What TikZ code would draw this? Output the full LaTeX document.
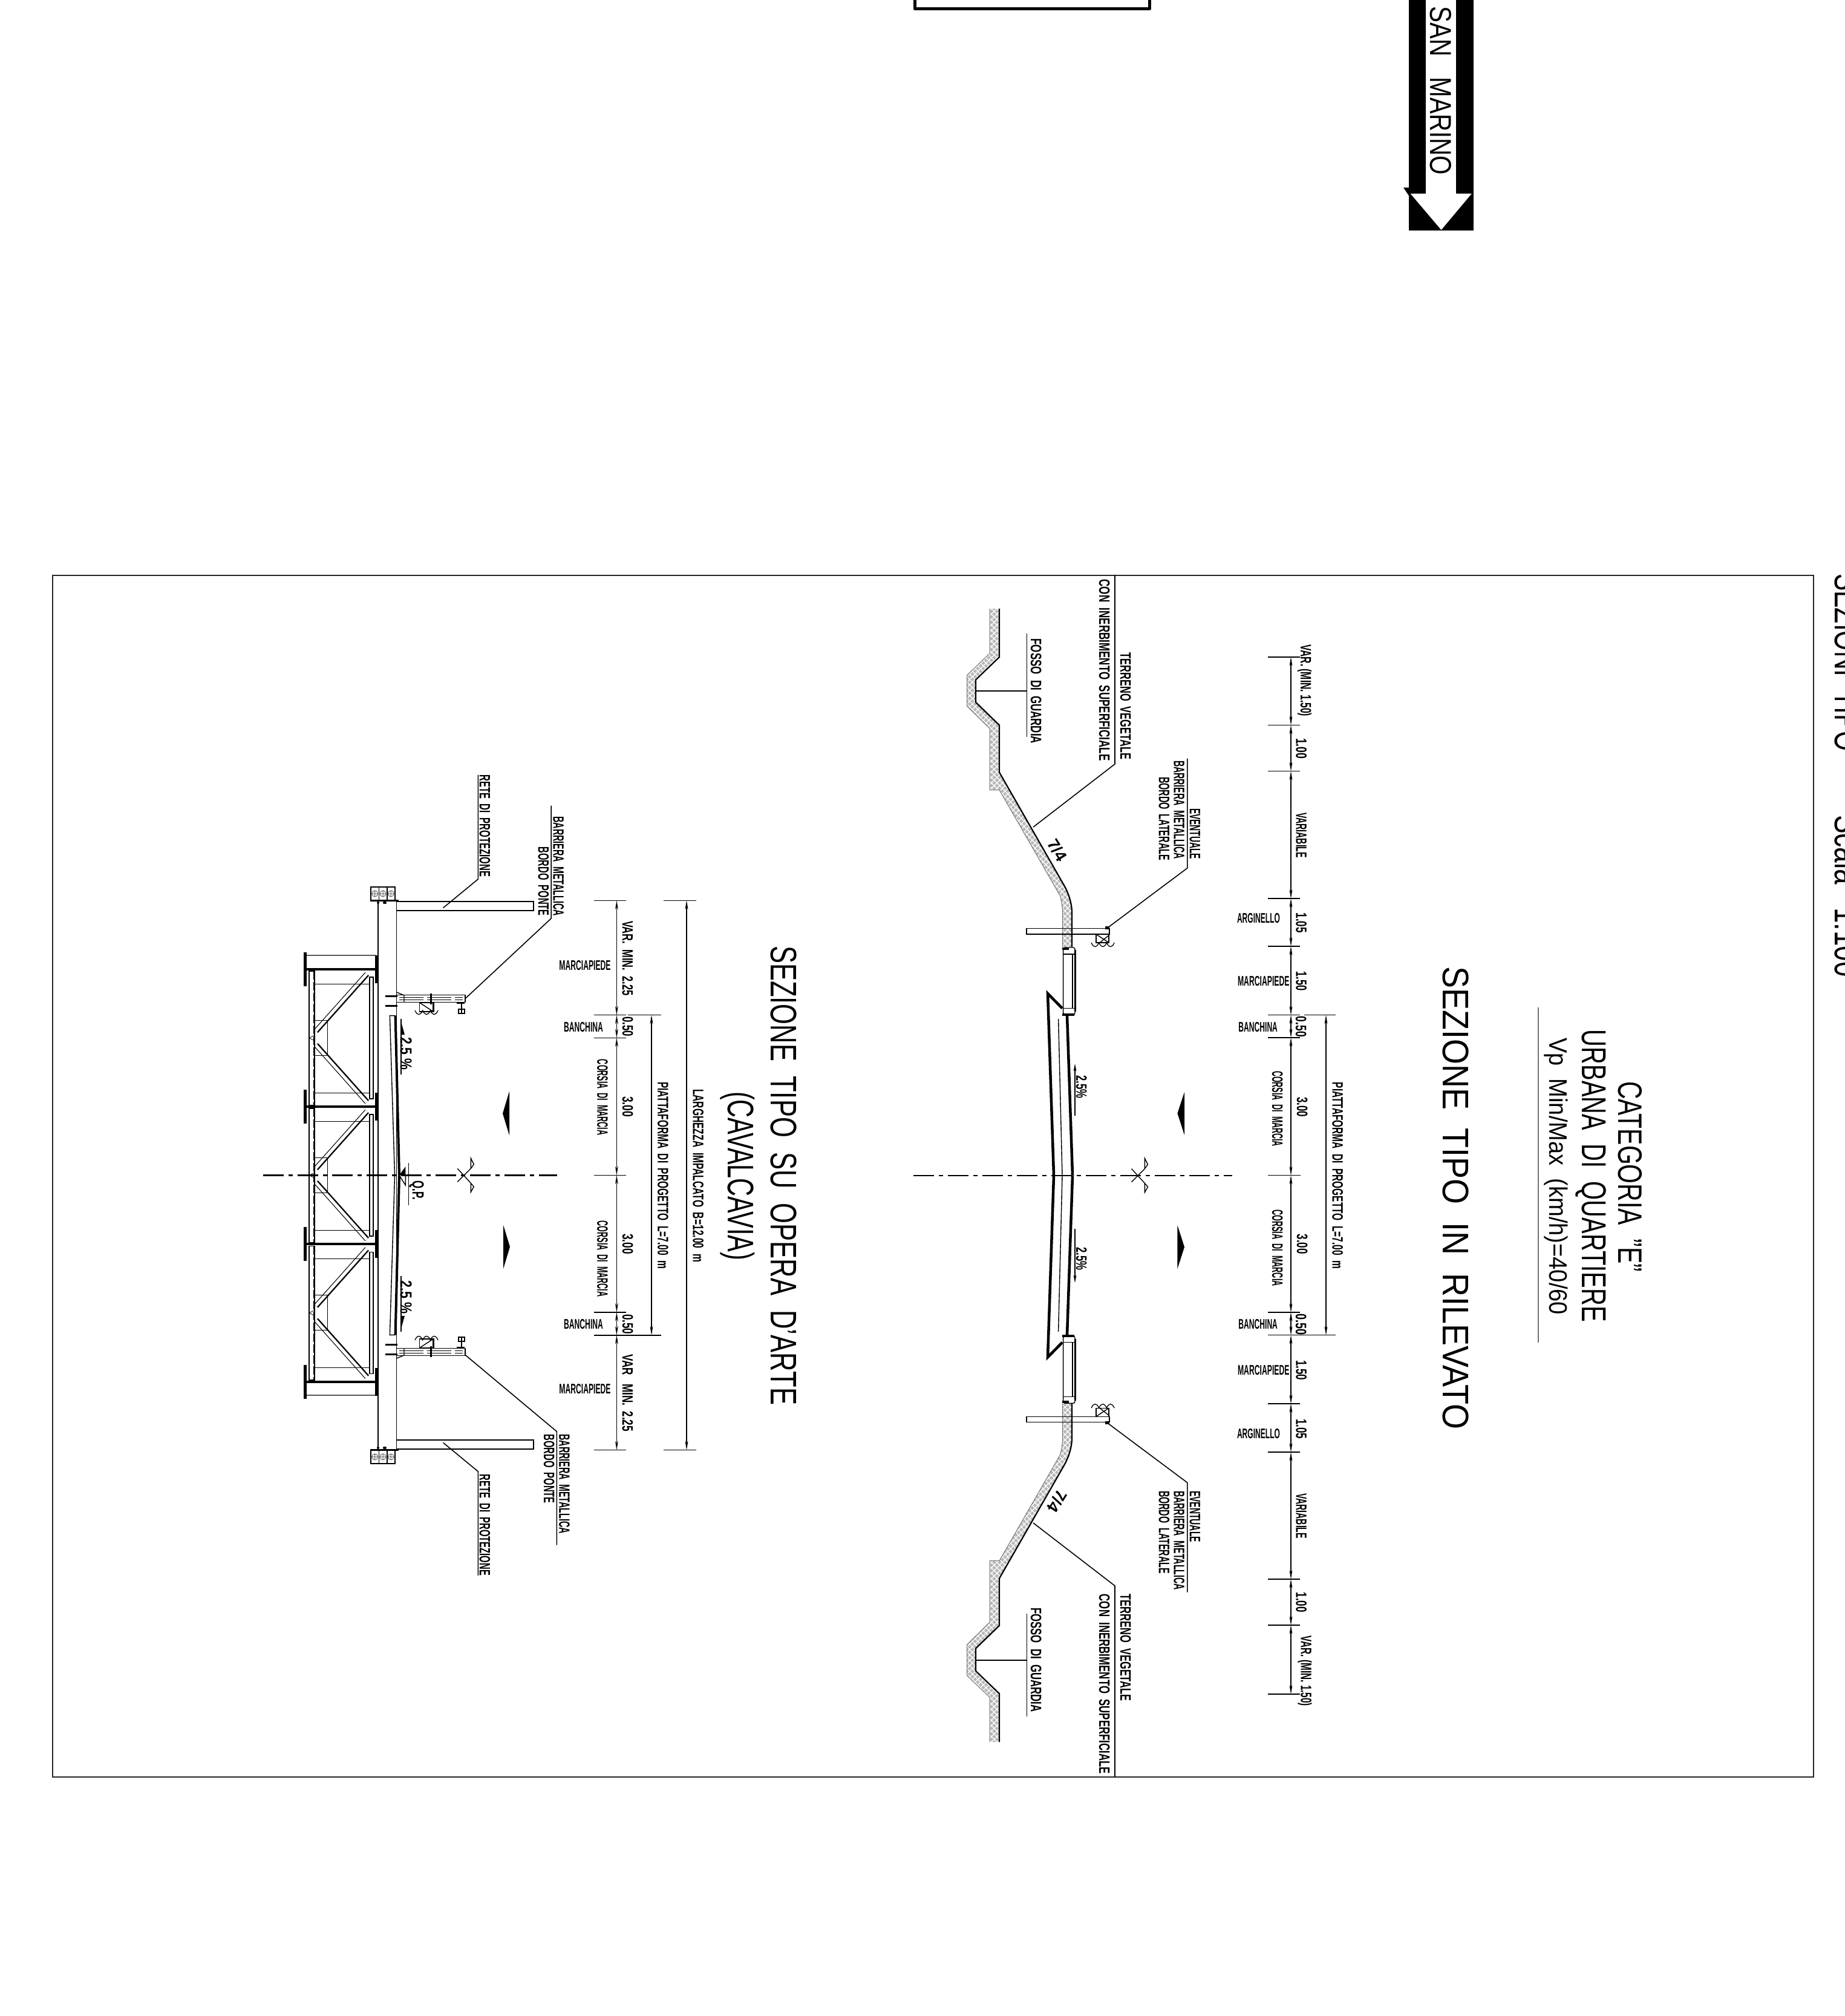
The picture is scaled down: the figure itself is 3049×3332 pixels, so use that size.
\documentclass[tikz,border=0pt]{standalone}
\usepackage{fontspec}
\usepackage{graphicx}
\setmainfont{Liberation Sans}
\usetikzlibrary{arrows.meta}
\tikzset{
  txt/.style={inner sep=0pt,outer sep=0pt,text=black},
  thinl/.style={line width=1.4pt,black},
  dim/.style={line width=1.4pt,black,{Stealth[length=15pt,width=5pt]}-{Stealth[length=15pt,width=5pt]}},
  tick/.style={line width=1.6pt,black},
  leader/.style={line width=1.6pt,black},
  axisl/.style={line width=2.2pt,black,dash pattern=on 34pt off 8pt on 7pt off 8pt},
}
% vertical (rotated) text: name, x, y, length, font size, text
\newcommand\TxV[6]{\node[txt,rotate=-90] (#1) at (#2,#3) {\resizebox{#4pt}{\height}{\fontsize{#5}{#5}\ifdim#5pt<30pt\bfseries\fi\selectfont\raisebox{0pt}[0.72em][0pt]{#6}}};}
% horizontal text
\newcommand\TxH[6]{\node[txt] (#1) at (#2,#3) {\resizebox{#4pt}{\height}{\fontsize{#5}{#5}\bfseries\selectfont\raisebox{0pt}[0.72em][0pt]{#6}}};}
% axis mark of the carriageway
\newcommand\axismark{
  \draw[thinl] (-10,11) -- (12,-11) -- (12,-28) -- (17,-18) -- (12,-11);
  \draw[thinl] (-10,-11) -- (12,13) -- (12,28) -- (17,19) -- (12,13);
}
\newcommand\wavy[3]{% x, y, unit
  \draw[line width=1.3pt] (#1,#2) .. controls +(#3*0.3,#3*0.7) and +(-#3*0.3,#3*0.7) .. ++(#3,0)
   .. controls +(#3*0.3,#3*0.7) and +(-#3*0.3,#3*0.7) .. ++(#3,0)
   .. controls +(#3*0.3,#3*0.7) and +(-#3*0.3,#3*0.7) .. ++(#3,0);
}
% half of the embankment, mirrored about the axis
\newcommand\roadhalf{
  \fill[black!28] (1636,1006)--(1652,1006)--(1652,1086)--(1613,1123.5)--(1613,1160.7)--(1652,1198.5)--(1652,1305.6)--(1636,1305.6)--(1636,1204)--(1598.5,1167)--(1598.5,1116)--(1636,1080)--cycle;
  \fill[black!28] (1652,1276.5)--(1760,1465) .. controls (1768,1480) and (1772,1495) .. (1772,1508.7)--(1772,1565)--(1756.6,1565)--(1756.6,1508.7) .. controls (1756.6,1500) and (1755,1490) .. (1752.5,1480.6)--(1652,1305.6)--cycle;
  \begin{scope}
    \clip (1636,1006)--(1652,1006)--(1652,1086)--(1613,1123.5)--(1613,1160.7)--(1652,1198.5)--(1652,1305.6)--(1636,1305.6)--(1636,1204)--(1598.5,1167)--(1598.5,1116)--(1636,1080)--cycle
     (1652,1276.5)--(1760,1465) .. controls (1768,1480) and (1772,1495) .. (1772,1508.7)--(1772,1565)--(1756.6,1565)--(1756.6,1508.7) .. controls (1756.6,1500) and (1755,1490) .. (1752.5,1480.6)--(1652,1305.6)--cycle;
    \foreach \c in {2600,2609,...,3340} \draw[white,line width=1.3pt] (1590,{\c-1590}) -- (1780,{\c-1780});
    \foreach \c in {30,39,...,770} \draw[white,line width=1.3pt] (1590,{1590-\c}) -- (1780,{1780-\c});
  \end{scope}
  \draw[line width=2.2pt] (1652,1006)--(1652,1086)--(1613,1123.5)--(1613,1160.7)--(1652,1198.5)--(1652,1276.5)--(1760,1465) .. controls (1768,1480) and (1772,1495) .. (1772,1508.7)--(1772,1565);
  \draw[line width=1pt,black!55] (1636,1006)--(1636,1080)--(1598.5,1116)--(1598.5,1167)--(1636,1204)--(1636,1305.6)--(1652,1305.6)--(1752.5,1480.6) .. controls (1755,1490) and (1756.6,1500) .. (1756.6,1508.7)--(1756.6,1565);
  % sidewalk
  \draw[thinl,rounded corners=3pt] (1757.6,1677)--(1757.6,1566)--(1777,1566)--(1777,1677)--cycle;
  \draw[line width=3pt] (1777,1570)--(1777,1672);
  \draw[thinl] (1773,1577)--(1773,1666);
  \draw[thinl] (1757.6,1577)--(1777,1577) (1757.6,1666.5)--(1777,1666.5);
  \draw[line width=3.5pt] (1756,1568)--(1767,1568);
  \draw[line width=3.5pt] (1756,1677)--(1776,1677);
  % lateral barrier
  \draw[thinl] (1697,1534.7) rectangle (1834,1544);
  \draw[thinl] (1812,1544) rectangle (1833,1558);
  \draw[thinl] (1812,1544)--(1833,1558) (1818,1558)--(1833,1546);
  \fill (1827,1531) rectangle (1834,1536);
  \wavy{1804}{1558}{12.7}
  % pavement
  \draw[line width=4.5pt,line join=miter] (1764,1678)--(1773,1942.6);
  \draw[line width=4.5pt,line join=miter] (1756,1666.5)--(1732,1642)--(1742,1942.6);
  \draw[thinl] (1749.6,1684)--(1756,1942.6);
}
% half of the bridge deck fittings, mirrored about the axis
\newcommand\bridgehalf{
  \draw[line width=1.8pt] (613,1465.8) rectangle (652.6,1488.3);
  \draw[thinl] (626.5,1465.8)--(626.5,1488.3) (639.8,1465.8)--(639.8,1488.3);
  \foreach \x in {619.7,633,646.2} {
    \draw[line width=1pt,black!60] (\x,1477) circle[radius=5pt] (\x-5,1477)--(\x+5,1477) (\x,1472)--(\x,1482);
  }
  \draw[line width=3pt] (611.7,1488.3)--(658.7,1488.3);
  \fill (625,1492) circle[radius=2pt] (635,1492) circle[radius=2pt] (637,1492) circle[radius=2pt];
  % net
  \draw[thinl] (655.6,1489.8) rectangle (882,1505);
  % barrier arm
  \draw[thinl] (655.6,1644.4) rectangle (769,1656.6);
  \draw[line width=1pt,dash pattern=on 40pt off 6pt] (660,1648.5)--(765,1648.5) (660,1652.5)--(765,1652.5);
  \draw[thinl] (656,1640)--(668,1645) (668,1645)--(668,1656);
  \draw[line width=3pt] (637,1646.4)--(657,1646.4) (637,1662)--(657,1662);
  \draw[line width=3pt] (712,1642)--(712,1660);
  \draw[thinl] (693.4,1657) rectangle (716.3,1672);
  \draw[line width=2.5pt] (716.3,1657)--(716.3,1672)--(693.4,1672);
  \draw[thinl] (693.4,1657)--(716.3,1672);
  \wavy{686}{1670}{12.7}
  \draw[line width=2pt] (763,1656)--(763,1676);
  \draw[line width=2pt] (758,1668) rectangle (768,1675);
  \draw[line width=2pt] (755,1658)--(768,1658);
  % pavement
  \draw[line width=4pt] (653.6,1678.6)--(660,1942.4);
  \draw[thinl] (653.6,1678.6)--(644.4,1678.6)--(652.5,1942.4);
  % slope mark
  \draw[thinl] (663,1684)--(663,1775.5);
  \fill (662,1685)--(662,1710)--(669,1710)--cycle;
}
% one bay of the girder bracing, drawn about mid height 1715.5
\newcommand\bay{
  \draw[line width=1.2pt,double=white,double distance=6pt] (606.6,1609.7)--(522.4,1704);
  \draw[line width=2.2pt] (609,1612)--(525,1706);
  \draw[line width=1.2pt,double=white,double distance=6pt] (522.4,1727)--(606.6,1821.4);
  \draw[line width=2.2pt] (525,1725)--(609,1819);
  \draw[thinl] (511,1605) rectangle (520,1826.5);
  \draw[thinl] (611,1615) rectangle (617,1816);
  \draw[line width=1pt,dash pattern=on 14pt off 4pt] (518,1605)--(518,1826);
  \draw[line width=1pt] (520,1626)--(611,1626) (520,1806)--(611,1806);
  \draw[line width=1pt] (520,1686)--(541,1686)--(541,1744)--(520,1744);
  \draw[line width=0.8pt] (520,1711)--(511,1715.5)--(520,1720);
}
\begin{document}
\begin{tikzpicture}[x=1pt,y=-1pt,line cap=butt]
\clip (0,0) rectangle (3049,3332);
\fill[white] (0,0) rectangle (3049,3332);
% --- top fragments
\draw[line width=5pt,line join=round] (1512.5,-10)--(1512.5,15)--(1900,15)--(1900,-10);
\fill[black] (2329.4,-5) rectangle (2435.5,380.7);
\fill[black] (2320,310)--(2330,310)--(2330,325)--cycle;
\fill[white] (2357,-5) rectangle (2407.4,321);
\fill[white] (2331.6,320)--(2432.8,320)--(2382.5,380)--cycle;
\TxV{sanmarino}{2382}{150}{278}{50}{SAN\ \ \ MARINO}
% --- frame
\draw[line width=2pt,black!85] (87,951) rectangle (2998,2937.4);
\TxV{shead}{3055}{1095}{294}{61}{SEZIONI\ \ TIPO}
\TxV{sscale}{3055}{1481}{268}{61}{Scala\ \ \ 1:100}
% --- titles
\TxV{tcat}{2696}{1944.5}{315}{56}{CATEGORIA\ \ ”E”}
\TxV{turb}{2635.5}{1943.4}{483}{57}{URBANA\ \ DI\ \ QUARTIERE}
\TxV{tvp}{2576.7}{1944}{458}{42}{Vp\ \ Min/Max\ \ (km/h)=40/60}
\draw[line width=2pt,black!55] (2542.7,1665.4)--(2542.7,2219);
\TxV{tril}{2407}{1980}{765}{61}{SEZIONE\ \ TIPO\ \ IN\ \ RILEVATO}
\TxV{tope}{1296.4}{1942.5}{759}{61}{SEZIONE\ \ TIPO\ \ SU\ \ OPERA\ \ D'ARTE}
\TxV{tcav}{1225}{1943.5}{279}{61}{(CAVALCAVIA)}
% === EMBANKMENT SECTION
\roadhalf
\begin{scope}[shift={(0,3885.2)},yscale=-1]\roadhalf\end{scope}
\draw[axisl] (1510,1942.6)--(2037,1942.6);
\begin{scope}[shift={(1880.4,1942.6)}]\axismark\end{scope}
% traffic marks
\fill (1946.4,1840)--(1958,1805)--(1958,1876)--cycle;
\fill (1958,2061)--(1946.4,2025)--(1946.4,2097)--cycle;
% slope arrows
\draw[line width=1.3pt,-{Stealth[length=13pt,width=5pt]}] (1777,1844)--(1777,1758);
\draw[line width=1.3pt,-{Stealth[length=13pt,width=5pt]}] (1777,2031)--(1777,2120);
\TxV{rs1}{1788}{1796.5}{38}{25}{2.5\%}
\TxV{rs2}{1788}{2080.5}{38}{25}{2.5\%}
\node[txt,rotate=-58,font=\bfseries] (ra1) at (1748,1405) {\fontsize{27}{27}\bfseries\selectfont 7/4};
\node[txt,rotate=-122,font=\bfseries] (ra2) at (1748,2481) {\fontsize{27}{27}\bfseries\selectfont 7/4};
% dimension column
\foreach \y in {1086,1198.5,1274.5,1485,1564,1677.6,1715,2169,2206.6,2320,2400,2610,2686,2800}
  \draw[tick] (2096,\y)--(2149,\y);
\draw[tick] (2096,1942.6)--(2150,1942.6);
\foreach \a/\b in {1086/1198.5,1198.5/1274.5,1274.5/1485,1485/1564,1564/1677.6,1677.6/1715,1715/1942.6,1942.6/2169,2169/2206.6,2206.6/2320,2320/2400,2400/2610,2610/2686,2686/2800}
  \draw[dim] (2134,\a)--(2134,\b);
\draw[tick] (2156,1677.6)--(2207.6,1677.6);
\draw[tick] (2149,2206.6)--(2207.6,2206.6);
\draw[dim] (2192,1677.6)--(2192,2206.6);
\TxV{rd1}{2159}{1124.6}{119}{25}{VAR.\ (MIN.\ 1.50)}
\TxV{rd2}{2151.5}{1237}{34}{25}{1.00}
\TxV{rd3}{2151.5}{1380.5}{75}{25}{VARIABILE}
\TxV{rd4}{2151.5}{1525.3}{33}{25}{1.05}
\TxV{rd5}{2151.5}{1621.8}{32}{25}{1.50}
\TxV{rd6}{2151}{1696.8}{34}{25}{0.50}
\TxV{rd7}{2153}{1829.5}{33}{25}{3.00}
\TxV{rd8}{2153}{2056.3}{33}{25}{3.00}
\TxV{rd9}{2151}{2188.5}{35}{25}{0.50}
\TxV{rd10}{2151.5}{2264.5}{33}{25}{1.50}
\TxV{rd11}{2151.5}{2361.5}{33}{25}{1.05}
\TxV{rd12}{2151.5}{2505.5}{75}{25}{VARIABILE}
\TxV{rd13}{2151.5}{2648.3}{33.4}{25}{1.00}
\TxV{rd14}{2159.5}{2761.8}{116}{25}{VAR.\ (MIN.\ 1.50)}
\TxV{rc1}{2112}{1832.5}{125}{25}{CORSIA\ \ DI\ \ MARCIA}
\TxV{rc2}{2112}{2062.4}{126.7}{25}{CORSIA\ \ DI\ \ MARCIA}
\TxV{rp}{2211.5}{1942.9}{308.3}{25}{PIATTAFORMA\ \ DI\ \ PROGETTO\ \ L=7.00\ \ m}
\TxH{rh1}{2080.5}{1517}{71}{23}{ARGINELLO}
\TxH{rh2}{2088.8}{1621.5}{85.6}{23}{MARCIAPIEDE}
\TxH{rh3}{2079.7}{1697}{64.5}{23}{BANCHINA}
\TxH{rh4}{2079.7}{2188.5}{64.5}{23}{BANCHINA}
\TxH{rh5}{2088.8}{2264}{85.6}{23}{MARCIAPIEDE}
\TxH{rh6}{2080.5}{2369.5}{71}{23}{ARGINELLO}
% embankment leaders and notes
\draw[leader] (1831.6,1533)--(1962.8,1434.7)--(1962.8,1253.6);
\draw[leader] (1831.6,2352.5)--(1962.8,2450.5)--(1962.8,2631.6);
\draw[leader] (1708,1367)--(1843,1262.8)--(1843,951);
\draw[leader] (1708,2517)--(1843,2621)--(1843,2937.4);
\draw[leader] (1613,1141.8)--(1697.5,1141.8) (1697.5,1047)--(1697.5,1218);
\draw[leader] (1613,2743.9)--(1697.5,2743.9) (1697.5,2667)--(1697.5,2837);
\TxV{rn1}{1975.8}{1378}{84}{25}{EVENTUALE}
\TxV{rn2}{1949.5}{1338.5}{163}{25}{BARRIERA\ \ METALLICA}
\TxV{rn3}{1924.8}{1353}{138}{25}{BORDO\ \ LATERALE}
\TxV{rn4}{1975.8}{2506.5}{85}{25}{EVENTUALE}
\TxV{rn5}{1949.5}{2546}{164}{25}{BARRIERA\ \ METALLICA}
\TxV{rn6}{1924.8}{2532.5}{137}{25}{BORDO\ \ LATERALE}
\TxV{rn7}{1861}{1166.8}{176.4}{25}{TERRENO\ \ VEGETALE}
\TxV{rn8}{1826}{1107.6}{300}{25}{CON\ \ INERBIMENTO\ \ SUPERFICIALE}
\TxV{rn9}{1861}{2723.2}{177}{25}{TERRENO\ \ VEGETALE}
\TxV{rn10}{1826}{2783.4}{297.4}{25}{CON\ \ INERBIMENTO\ \ SUPERFICIALE}
\TxV{rn11}{1713}{1142.3}{173.4}{25}{FOSSO\ \ DI\ \ GUARDIA}
\TxV{rn12}{1713}{2743.3}{172.6}{25}{FOSSO\ \ DI\ \ GUARDIA}
% === BRIDGE SECTION
\draw[line width=2pt] (624.5,1488.3)--(624.5,2396.4);
\draw[line width=1.7pt] (655.6,1488.3)--(655.6,2396.4);
\bridgehalf
\begin{scope}[shift={(0,3884.9)},yscale=-1]\bridgehalf\end{scope}
\foreach \m in {0,227,454.5} {
  \begin{scope}[shift={(0,\m)}]\bay\end{scope}
}
% girders
\draw[thinl,rounded corners=2pt] (505,1579) rectangle (622,1602);
\draw[thinl,rounded corners=2pt] (505,2284) rectangle (622,2306);
\foreach \y in {1602,1829,2056,2284} {
  \draw[line width=3.2pt] (505,\y)--(622,\y);
  \draw[line width=4.5pt] (504.6,\y-28)--(504.6,\y+28);
  \draw[line width=3.2pt] (622,\y-23)--(622,\y+23);
}
\draw[axisl] (434.7,1942.4)--(921,1942.4);
\begin{scope}[shift={(766.3,1942.4)}]\axismark\end{scope}
\fill (831,1840.3)--(842,1803.6)--(842,1876.5)--cycle;
\fill (843,2060.7)--(832,2024.6)--(832,2097)--cycle;
% centre mark
\fill (660,1942.4)--(670.4,1928)--(670.4,1942.4)--cycle;
\draw[thinl] (660,1942.4)--(670.4,1959)--(670.4,1942.4);
\draw[thinl] (675.5,1922)--(675.5,1992);
\TxV{bq}{691.5}{1967.2}{31.5}{27}{Q.P.}
\TxV{bs1}{671.7}{1741}{54}{27}{2.5\ \%}
\TxV{bs2}{671.7}{2143.8}{54.5}{27}{2.5\ \%}
% dimensions
\foreach \y in {1488.3,1677.6,1715.3,1942.4,2168.8,2206.7,2396.4}
  \draw[tick] (981.6,\y)--(1035,\y);
\foreach \a/\b in {1488.3/1677.6,1677.6/1715.3,1715.3/1942.4,1942.4/2168.8,2168.8/2206.7,2206.7/2396.4}
  \draw[dim] (1019.4,\a)--(1019.4,\b);
\draw[tick] (1037.8,1677.6)--(1092.9,1677.6);
\draw[tick] (1035,2206.7)--(1092.9,2206.7);
\draw[dim] (1077,1677.6)--(1077,2206.7);
\draw[tick] (1097,1488.3)--(1151,1488.3) (1097,2396.4)--(1151,2396.4);
\draw[dim] (1135,1488.3)--(1135,2396.4);
\TxV{bd1}{1037.8}{1583.7}{123.4}{25}{VAR.\ \ MIN.\ \ 2.25}
\TxV{bd2}{1037.8}{2302}{128}{25}{VAR\ \ \ MIN.\ \ 2.25}
\TxV{bd3}{1038}{1696.5}{33}{25}{0.50}
\TxV{bd4}{1038}{2188.5}{33}{25}{0.50}
\TxV{bd5}{1038}{1829}{34}{25}{3.00}
\TxV{bd6}{1038}{2056}{33.5}{25}{3.00}
\TxV{bc1}{996.3}{1813.7}{125.5}{25}{CORSIA\ \ DI\ \ MARCIA}
\TxV{bc2}{996.3}{2080.6}{125.4}{25}{CORSIA\ \ DI\ \ MARCIA}
\TxV{bp}{1096.3}{1942.5}{309}{25}{PIATTAFORMA\ \ DI\ \ PROGETTO\ \ L=7.00\ \ m}
\TxV{bl}{1154.5}{1943}{286}{25}{LARGHEZZA\ \ IMPALCATO\ \ B=12.00\ \ m}
\TxH{bh1}{967}{1595.6}{85.2}{23}{MARCIAPIEDE}
\TxH{bh2}{964.5}{1697.2}{65}{23}{BANCHINA}
\TxH{bh3}{964.5}{2188.5}{65}{23}{BANCHINA}
\TxH{bh4}{967}{2295}{85.2}{23}{MARCIAPIEDE}
% leaders and notes
\draw[leader] (732.6,1500.5)--(790.3,1453)--(790.3,1280.6);
\draw[leader] (732.6,2384.4)--(790.3,2432)--(790.3,2604);
\draw[leader] (769,1650.5)--(911.2,1517.9)--(911.2,1331.6);
\draw[leader] (769,2239.3)--(920.4,2366)--(920.4,2553.6);
\TxV{bn1}{801.8}{1364.8}{168.4}{25}{RETE\ \ DI\ \ PROTEZIONE}
\TxV{bn2}{801.8}{2520.3}{167.4}{25}{RETE\ \ DI\ \ PROTEZIONE}
\TxV{bn3}{923.6}{1431.6}{164.3}{25}{BARRIERA\ \ METALLICA}
\TxV{bn4}{898.8}{1456.6}{114.3}{25}{BORDO\ \ PONTE}
\TxV{bn5}{933.4}{2452.6}{164.3}{25}{BARRIERA\ \ METALLICA}
\TxV{bn6}{908}{2427.6}{114.3}{25}{BORDO\ \ PONTE}
\end{tikzpicture}
\end{document}
